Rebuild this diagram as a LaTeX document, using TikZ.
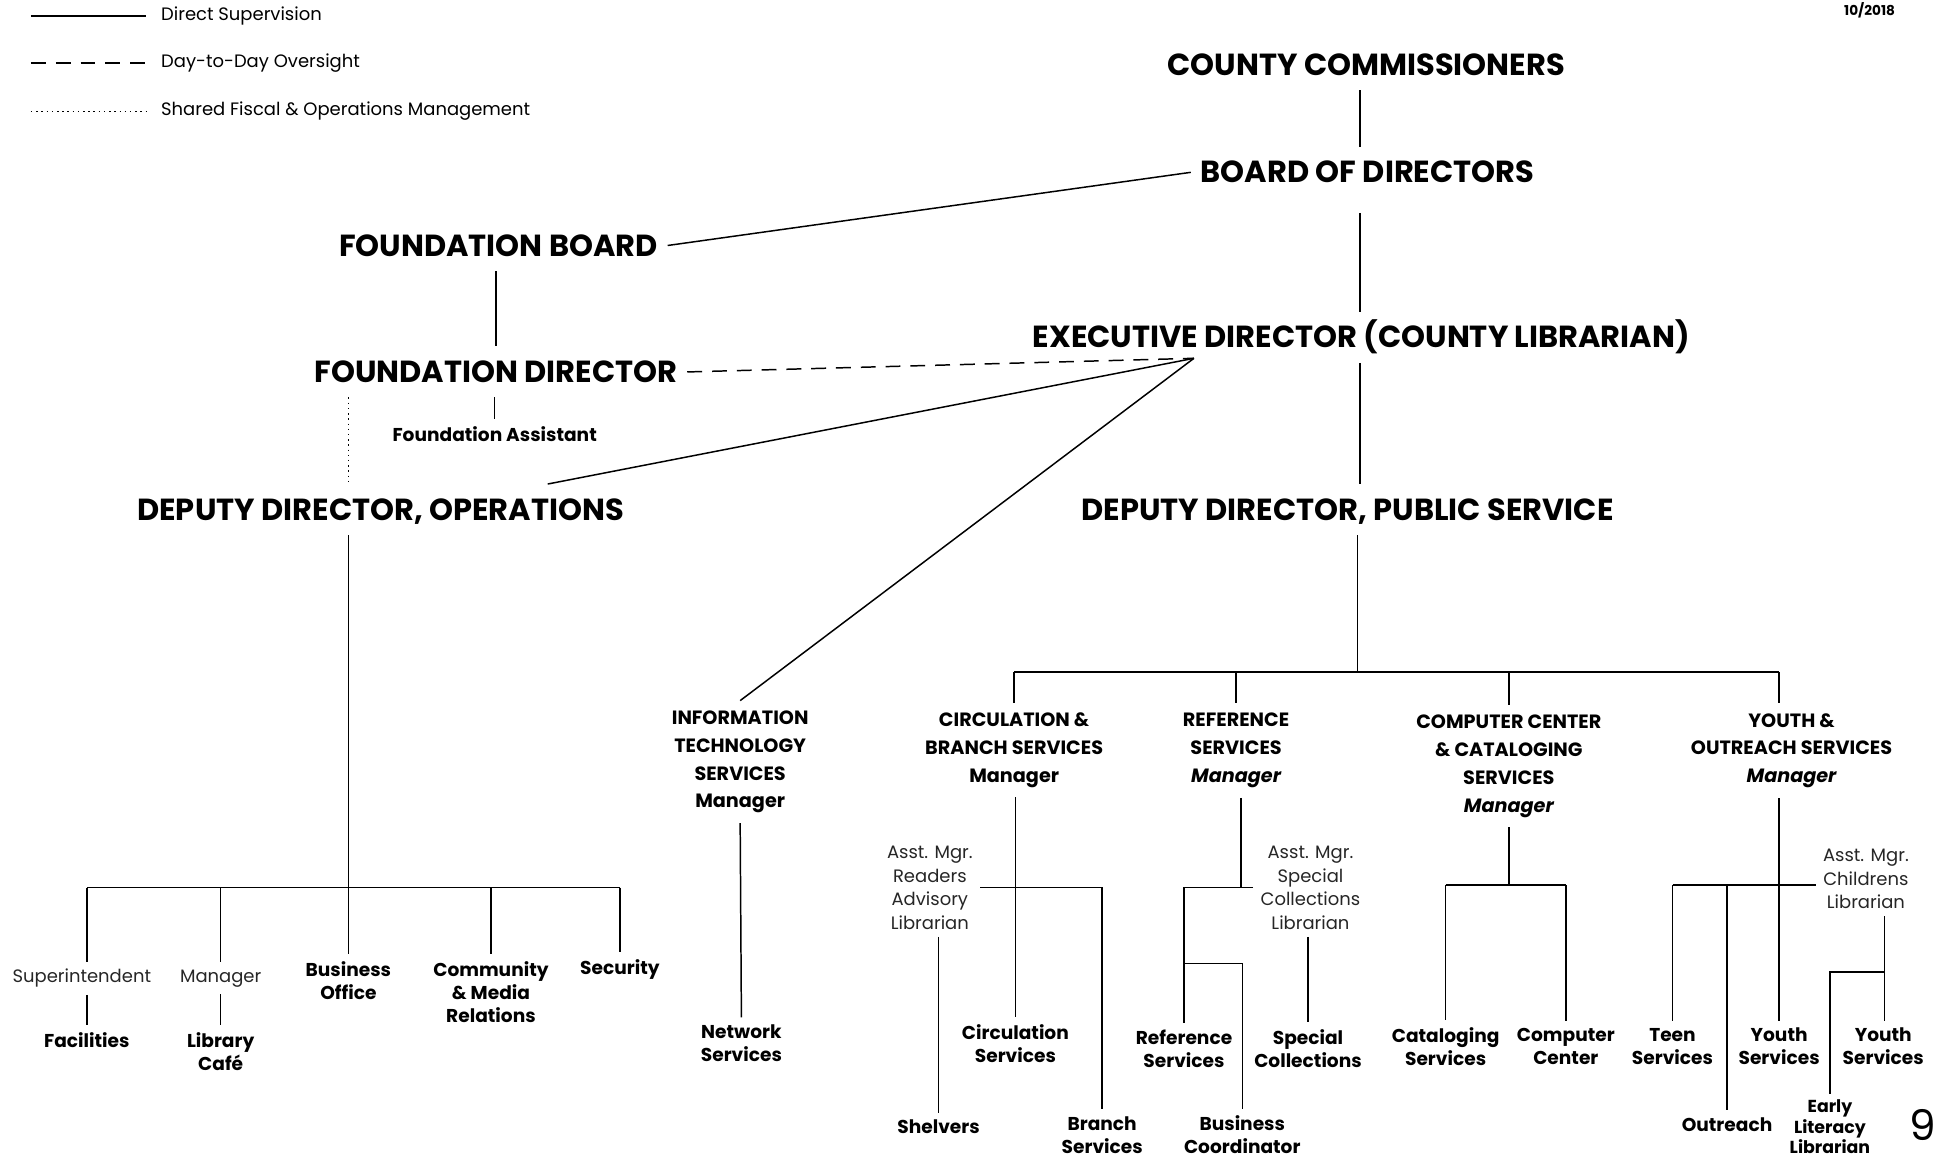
\documentclass[tikz,border=0pt]{standalone}
\usepackage{fontspec}
\setmainfont{Poppins}
\usetikzlibrary{calc}
\tikzset{
  every node/.style={inner sep=0pt, outer sep=0pt},
  conn/.style={line width=1.2pt},
  oversight/.style={line width=1.2pt, dash pattern=on 12pt off 8pt},
  shared/.style={line width=1.2pt, dash pattern=on 1.2pt off 3pt},
  big/.style={font=\fontsize{24.6}{30}\selectfont\bfseries, inner xsep=8pt, inner ysep=12pt, text height=17.2pt, text depth=0pt},
  dept/.style={font=\fontsize{15.5}{22.5}\selectfont\bfseries, align=center, inner sep=8pt},
  unitlbl/.style={font=\fontsize{15}{18.5}\selectfont\bfseries, align=center, inner sep=6pt},
  asst/.style={font=\fontsize{14.5}{19}\selectfont, align=center, inner sep=6pt, text=black!85},
  legtext/.style={font=\fontsize{14.5}{16}\selectfont, anchor=west, inner xsep=12pt},
}
\begin{document}
\begin{tikzpicture}[x=1pt,y=-1pt]
\useasboundingbox (0,0) rectangle (1568,935);

% legend
\node[legtext] (l1) at (118,13) {Direct Supervision};
\node[legtext] (l2) at (118,51) {Day-to-Day Oversight};
\node[legtext] (l3) at (118,90) {Shared Fiscal \& Operations Management};
\coordinate (l1a) at (25,13);
\coordinate (l2a) at (25,51);
\coordinate (l3a) at (25,90);
\draw[conn] (l1a) -- (l1.west);
\draw[oversight] (l2a) -- (l2.west);
\draw[shared] (l3a) -- (l3.west);

\node[font=\fontsize{11}{12}\selectfont\bfseries] (date) at (1508,8) {10/2018};
\node[font=\fontsize{34}{36}\selectfont] (pg) at (1551,907) {9};

% top levels
\node[big] (cc) at (1102,52) {COUNTY COMMISSIONERS};
\node[big] (bod) at (1103,139) {BOARD OF DIRECTORS};
\node[big] (fb) at (402,198) {FOUNDATION BOARD};
\node[big] (fd) at (400,300) {FOUNDATION DIRECTOR};
\node[font=\fontsize{15}{16}\selectfont\bfseries, inner sep=6pt] (fa) at (399,350) {Foundation Assistant};
\node[big] (dops) at (307,411) {DEPUTY DIRECTOR, OPERATIONS};
\node[big] (exec) at (1098,272) {EXECUTIVE DIRECTOR (COUNTY LIBRARIAN)};
\node[big] (dps) at (1087,411) {DEPUTY DIRECTOR, PUBLIC SERVICE};

\coordinate (sx) at (1097,0);
\coordinate (exhub) at (963,289);
\draw[conn] (cc.south -| sx) -- (bod.north -| sx);
\draw[conn, shorten <=12pt] (bod.south -| sx) -- (exec.north -| sx);
\draw[conn] (exec.south -| sx) -- (dps.north -| sx);
\draw[conn] (bod.west) -- (fb.east);
\draw[conn] (fb.south -| fd) -- (fd.north);
\draw[conn] (fd.south -| fa) -- (fa.north);
\draw[oversight] (fd.east) -- (exhub);
\draw[conn] ($(dops.north)!0.66!(dops.north east)$) -- (exhub);
\coordinate (dotx) at (281,0);
\draw[shared] (fd.south -| dotx) -- (dops.north -| dotx);

% operations tree
\node[asst] (sup) at (66,789) {Superintendent};
\node[unitlbl] (fac) at (70,839) {Facilities};
\node[asst] (mgr) at (178,789) {Manager};
\node[unitlbl] (cafe) at (178,848) {Library\\Café};
\node[unitlbl] (bo) at (281,791) {Business\\Office};
\node[unitlbl] (cmr) at (396,800) {Community\\\& Media\\Relations};
\node[unitlbl] (sec) at (500,782) {Security};

\coordinate (opsbar) at (281,716);
\draw[conn] (dops.south -| opsbar) -- (opsbar);
\draw[conn] (fac.north |- opsbar) -- (sec.north |- opsbar);
\draw[conn] (fac.north |- opsbar) -- (fac.north |- sup.north);
\draw[conn] (mgr.north |- opsbar) -- (mgr.north);
\draw[conn] (bo.north |- opsbar) -- (bo.north);
\draw[conn] (cmr.north |- opsbar) -- (cmr.north);
\draw[conn] (sec.north |- opsbar) -- (sec.north);
\draw[conn] (sup.south -| fac) -- (fac.north);
\draw[conn] (mgr.south) -- (cafe.north);

% IT
\node[dept] (it) at (597,614.5) {INFORMATION\\TECHNOLOGY\\SERVICES\\Manager};
\node[unitlbl] (nets) at (598,841.5) {Network\\Services};
\draw[conn] (exhub) -- (it.north);
\draw[conn] (it.south) -- (nets.north);

% public service departments
\node[dept] (circ) at (818,605) {CIRCULATION \&\\BRANCH SERVICES\\Manager};
\node[dept] (ref) at (997,605.5) {REFERENCE\\SERVICES\\{\itshape Manager}};
\node[dept] (comp) at (1217,618) {COMPUTER CENTER\\\& CATALOGING\\SERVICES\\{\itshape Manager}};
\node[dept] (youth) at (1445,605.5) {YOUTH \&\\OUTREACH SERVICES\\{\itshape Manager}};

\coordinate (psbar) at (1095,542);
\draw[conn] (dps.south -| psbar) -- (psbar);
\draw[conn] (circ.north |- psbar) -- ([xshift=-10pt]youth.north |- psbar);
\draw[conn] (circ.north |- psbar) -- (circ.north);
\draw[conn] (ref.north |- psbar) -- (ref.north);
\draw[conn] (comp.north |- psbar) -- (comp.north);
\draw[conn] ([xshift=-10pt]youth.north |- psbar) -- ([xshift=-10pt]youth.north);

% circulation subtree
\node[asst] (readers) at (750,716) {Asst. Mgr.\\Readers\\Advisory\\Librarian};
\node[unitlbl] (circs) at (819,841.5) {Circulation\\Services};
\node[unitlbl] (shelv) at (757,909) {Shelvers};
\node[unitlbl] (branch) at (889,915.5) {Branch\\Services};
\draw[conn] (circ.south -| circs) -- (circs.north);
\draw[conn] (readers.east) -- (readers.east -| branch) -- (branch.north);
\draw[conn] (readers.south -| shelv) -- (shelv.north);

% reference subtree
\node[asst] (special) at (1057,716) {Asst. Mgr.\\Special\\Collections\\Librarian};
\node[unitlbl] (refs) at (955,846) {Reference\\Services};
\node[unitlbl] (specc) at (1055,846) {Special\\Collections};
\node[unitlbl] (biz) at (1002,915.5) {Business\\Coordinator};
\coordinate (refbar) at (1001,716);
\coordinate (bizbar) at (1001,777);
\draw[conn] (ref.south -| refbar) -- (refbar);
\draw[conn] (special.west) -- (special.west -| refs) -- (refs.north);
\draw[conn] (refs.north |- bizbar) -- (bizbar -| biz) -- (biz.north);
\draw[conn] (special.south -| specc) -- (specc.north);

% computer center subtree
\node[unitlbl] (catal) at (1166,844) {Cataloging\\Services};
\node[unitlbl] (compc) at (1263,844) {Computer\\Center};
\coordinate (compbar) at (1217,714);
\draw[conn] (comp.south) -- (compbar);
\draw[conn] (catal.north |- compbar) -- (compc.north |- compbar);
\draw[conn] (catal.north |- compbar) -- (catal.north);
\draw[conn] (compc.north |- compbar) -- (compc.north);

% youth subtree
\node[asst] (childrens) at (1505,709) {Asst. Mgr.\\Childrens\\Librarian};
\node[unitlbl] (teen) at (1349,844) {Teen\\Services};
\node[unitlbl] (ysv1) at (1435,844) {Youth\\Services};
\node[unitlbl] (ysv2) at (1519,844) {Youth\\Services};
\node[unitlbl] (outr) at (1393,907) {Outreach};
\node[unitlbl, font=\fontsize{14}{16.5}\selectfont\bfseries, inner sep=5pt] (early) at (1476,909) {Early\\Literacy\\Librarian};
\coordinate (ybar) at (1393,714);
\coordinate (elbar) at (1520,784);
\draw[conn] ([xshift=-10pt]youth.south) -- ([xshift=-10pt]youth.south |- ysv1.north);
\draw[conn] (teen.north |- ybar) -- (childrens.west |- ybar);
\draw[conn] (teen.north |- ybar) -- (teen.north);
\draw[conn] (ybar) -- (outr.north);
\draw[conn] (childrens.south -| elbar) -- (ysv2.north -| elbar);
\draw[conn] (elbar) -- (elbar -| early) -- (early.north);
\end{tikzpicture}
\end{document}
